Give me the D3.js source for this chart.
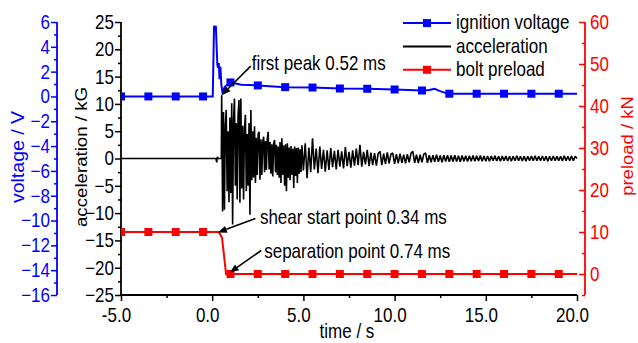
<!DOCTYPE html>
<html><head><meta charset="utf-8">
<script src="https://cdn.jsdelivr.net/npm/d3@7"></script>
<style>
html,body{margin:0;padding:0;background:#fff;}
svg{display:block;font-family:"Liberation Sans",Arial,Helvetica,sans-serif;}
</style></head><body>
<svg id="chart" width="638" height="343"></svg>
<script>
// ---------------- data ----------------
const timeTicks = [-5, 0, 5, 10, 15, 20];
const timeTickLabels = ["-5.0", "0.0", "5.0", "10.0", "15.0", "20.0"];
const timeMinor = [-2.5, 2.5, 7.5, 12.5, 17.5];
const accelTicks = [25, 20, 15, 10, 5, 0, -5, -10, -15, -20, -25];
const accelMinor = [22.5, 17.5, 12.5, 7.5, 2.5, -2.5, -7.5, -12.5, -17.5, -22.5];
const voltageTicks = [6, 4, 2, 0, -2, -4, -6, -8, -10, -12, -14, -16];
const voltageMinor = [5, 3, 1, -1, -3, -5, -7, -9, -11, -13, -15];
const preloadTicks = [60, 50, 40, 30, 20, 10, 0];
const preloadMinor = [55, 45, 35, 25, 15, 5, -5];

const seriesNames = ["ignition voltage", "acceleration", "bolt preload"];

// ignition voltage (V)
const voltageT = [-5, -3.5, -2, -0.5, 0.03, 0.1, 0.15, 0.2, 0.28, 0.32, 0.36, 0.4, 0.45, 0.5, 0.56, 0.7, 1.0, 1.6, 2.5, 4.0, 5.5, 7.0, 8.5, 10.0, 11.5, 11.9, 12.2, 12.45, 12.65, 13.0, 14.5, 16.0, 17.5, 19.0, 20.0];
const voltageV = [0, 0, 0, 0, 0, 5.7, 5.3, 5.7, 2.6, 2.3, 2.7, 1.4, 2.4, 1.0, 0.35, 0.8, 1.13, 0.95, 0.89, 0.75, 0.72, 0.64, 0.62, 0.56, 0.48, 0.52, 0.62, 0.45, 0.35, 0.22, 0.22, 0.22, 0.22, 0.22, 0.22];

// marker times (shared) and marker values
const markerTimes = [-5, -3.5, -2, -0.5, 1, 2.5, 4, 5.5, 7, 8.5, 10, 11.5, 13, 14.5, 16, 17.5, 19];
const voltageMarkerV = [0, 0, 0, 0, 1.13, 0.89, 0.75, 0.72, 0.64, 0.62, 0.56, 0.48, 0.22, 0.22, 0.22, 0.22, 0.22];
const preloadMarkerV = [10, 10, 10, 10, 0, 0, 0, 0, 0, 0, 0, 0, 0, 0, 0, 0, 0];

// bolt preload (kN)
const preloadT = [-5, 0.34, 0.42, 0.54, 0.76, 20];
const preloadV = [10, 10, 9.6, 8.6, 0, 0];

// acceleration (kG): quiet part, burst (0.05 s step), tail (0.1 s step)
const accelQuietT = [-5, 0.2, 0.25, 0.28, 0.32, 0.5];
const accelQuietV = [0, 0, -0.7, 0.3, 0, 0];
const accelBurstStart = 0.52, accelBurstStep = 0.05;
const accelBurst = [
  11.6, -9.7, 8.5, -9.4, 6.0, 8.9, -6.0, 5.0, -8.0, 7.5,
  -6.3, 10.1, -12.1, 7.0, 11.0, -5.0, 6.5, -7.5, 8.0, 10.7,
  -8.1, 11.0, -5.5, 6.0, -7.5, 5.5, 8.0, -6.0, 4.5, -5.0,
  6.5, -10.3, 8.9, -4.0, 5.0, -3.5, 5.9, -4.5, 3.8, -3.0,
  4.5, 4.9, -3.9, 3.5, -3.0, 3.0, 4.0, -2.5, 3.2, -2.1,
  3.6, 4.9, -2.0, 3.0, -2.8, 2.6, -3.3, 2.8, 3.4, -2.5,
  2.5, -3.0, 2.2, -3.5, 3.0, -4.5, 3.7, -3.0, 2.4, -5.0,
  2.6, -6.0, 2.8, -3.5, 2.0, -4.0, 2.3, -3.0, 1.8, -5.4,
  2.2, -3.2, 1.9, -4.5, 2.0, -2.8, 1.7, -2.5, 2.4
];
const accelTailStart = 5.0, accelTailStep = 0.1;
const accelTail = [
  -2.2, 2.8, -3.6, 2.0, -2.5, 3.7, -2.0, 1.8, -2.7, 2.2,
  -1.9, 1.6, -2.4, 1.5, -2.1, 1.9, -1.6, 1.4, -2.0, 1.6,
  -1.5, 1.3, -1.8, 2.1, -1.4, 1.2, -1.7, 1.5, -1.3, 1.8,
  -1.2, 2.5, -1.5, 1.2, -1.1, 1.6, -1.4, 1.1, -1.2, 1.0,
  -1.3, 0.9, 1.3, -1.2, 0.9, -1.0, 1.1, -0.9, 0.8, 1.0,
  -1.0, 0.8, -0.9, 0.9, -0.8, 0.7, -0.9, 0.8, -0.7, 1.0,
  1.3, -0.8, 0.7, -0.85, 0.7, -0.7, 0.8, 1.0, -0.8, 0.6,
  -0.7, 0.6, -0.6, 0.7, -0.6, 0.55, -0.7, 0.6, -0.55, 0.6,
  -0.6, 0.55, -0.55, 0.6, -0.55, 0.5, -0.6, 0.55, -0.5, 0.5,
  -0.55, 0.5, -0.5, 0.55, -0.5, 0.5, -0.45, 0.55, -0.5, 0.45,
  -0.5, 0.45, -0.5, 0.45, -0.4, 0.5, -0.45, 0.4, -0.5, 0.45,
  -0.4, 0.45, -0.45, 0.4, -0.5, 0.4, -0.4, 0.5, -0.4, 0.4,
  -0.45, 0.4, -0.5, 0.4, -0.4, 0.45, -0.4, 0.5, -0.4, 0.4,
  -0.4, 0.45, -0.4, 0.4, -0.5, 0.4, -0.4, 0.45, -0.4, 0.4,
  -0.4, 0.4, -0.45, 0.5, -0.4, 0.4, -0.4, 0.45, -0.4, 0.4,
  0
];

const annotations = [
  {text: "first peak 0.52 ms", t: 0.52, v: 11.6, axis: "accel"},
  {text: "shear start point 0.34 ms", t: 0.34, v: 10, axis: "preload"},
  {text: "separation point 0.74 ms", t: 0.74, v: 0, axis: "preload"}
];

// ---------------- layout ----------------
const BLUE = "#0000ff", RED = "#ff0000", BLACK = "#000000";
const SX = 0.85, FONT = 20;
const annotationLayout = [
  {tipDx: 0, tipDy: 0, tailDx: 29, tailDy: -29, textDx: 30, textDy: -25.5},
  {tipDx: -0.5, tipDy: 0.5, tailDx: 37, tailDy: -13.5, textDx: 41.5, textDy: -8},
  {tipDx: 4, tipDy: -1.5, tailDx: 35.5, tailDy: -23.5, textDx: 38.5, textDy: -16.5}
];

const svg = d3.select("#chart");
const x = d3.scaleLinear().domain([-5, 20]).range([121, 577]);
const yA = d3.scaleLinear().domain([-25, 25]).range([295, 22]);
const yV = d3.scaleLinear().domain([-16, 6]).range([295, 22]);
const yP = d3.scaleLinear().domain([-5, 60]).range([295, 22]);
const axisX = {accel: 121, volt: 57, preload: 585};

function squeezeText(sel, xOff) {
  sel.attr("x", xOff / SX).attr("transform", `scale(${SX},1)`)
     .style("font-size", FONT + "px");
}
function styleAxis(g, color) {
  g.select(".domain").remove();
  g.selectAll("line").attr("stroke", color).attr("stroke-width", 1.5);
  g.selectAll("text").attr("fill", color);
  g.attr("font-family", null).attr("font-size", null);
}

// clip for series
svg.append("defs").append("clipPath").attr("id", "plotclip")
  .append("rect").attr("x", 121).attr("y", 0).attr("width", 480).attr("height", 343);

// ---------- axes ----------
let g = svg.append("g").attr("transform", `translate(${axisX.accel},0)`)
  .call(d3.axisLeft(yA).tickValues(accelTicks).tickSize(6).tickPadding(1).tickSizeOuter(0));
styleAxis(g, BLACK); squeezeText(g.selectAll(".tick text"), -7);
g = svg.append("g").attr("transform", `translate(${axisX.accel},0)`)
  .call(d3.axisLeft(yA).tickValues(accelMinor).tickSize(3).tickFormat("").tickSizeOuter(0));
styleAxis(g, BLACK);
svg.append("line").attr("x1", axisX.accel).attr("x2", axisX.accel).attr("y1", yA(25)).attr("y2", yA(-25))
  .attr("stroke", BLACK).attr("stroke-width", 1.8);

g = svg.append("g").attr("transform", `translate(${axisX.volt},0)`)
  .call(d3.axisLeft(yV).tickValues(voltageTicks).tickSize(6).tickPadding(1).tickSizeOuter(0));
styleAxis(g, BLUE); squeezeText(g.selectAll(".tick text"), -7);
g = svg.append("g").attr("transform", `translate(${axisX.volt},0)`)
  .call(d3.axisLeft(yV).tickValues(voltageMinor).tickSize(3).tickFormat("").tickSizeOuter(0));
styleAxis(g, BLUE);
svg.append("line").attr("x1", axisX.volt).attr("x2", axisX.volt).attr("y1", yV(6)).attr("y2", yV(-16))
  .attr("stroke", BLUE).attr("stroke-width", 1.8);

g = svg.append("g").attr("transform", `translate(${axisX.preload},0)`)
  .call(d3.axisRight(yP).tickValues(preloadTicks).tickSize(-6).tickPadding(5).tickSizeOuter(0));
styleAxis(g, RED); squeezeText(g.selectAll(".tick text"), 5);
g = svg.append("g").attr("transform", `translate(${axisX.preload},0)`)
  .call(d3.axisRight(yP).tickValues(preloadMinor).tickSize(-3).tickFormat("").tickSizeOuter(0));
styleAxis(g, RED);
svg.append("line").attr("x1", axisX.preload).attr("x2", axisX.preload).attr("y1", yP(60)).attr("y2", yP(-5))
  .attr("stroke", RED).attr("stroke-width", 1.8);

g = svg.append("g").attr("transform", `translate(0,${yA(-25)})`)
  .call(d3.axisBottom(x).tickValues(timeTicks).tickFormat((d, i) => timeTickLabels[i]).tickSize(6).tickPadding(7).tickSizeOuter(0));
styleAxis(g, BLACK); squeezeText(g.selectAll(".tick text"), -5);
g = svg.append("g").attr("transform", `translate(0,${yA(-25)})`)
  .call(d3.axisBottom(x).tickValues(timeMinor).tickSize(3).tickFormat("").tickSizeOuter(0));
styleAxis(g, BLACK);
svg.append("line").attr("x1", x(-5)).attr("x2", x(20)).attr("y1", yA(-25)).attr("y2", yA(-25))
  .attr("stroke", BLACK).attr("stroke-width", 1.8);

function title(tx, ty, str, color, size, rot) {
  svg.append("text")
    .attr("transform", rot ? `translate(${tx},${ty}) rotate(-90) scale(1,0.9)` : `translate(${tx},${ty}) scale(${SX},1)`)
    .attr("text-anchor", "middle").attr("fill", color).style("font-size", size + "px").text(str);
}
title(24, 157, "voltage / V", BLUE, 19.5, true);
title(87, 157, "acceleration / kG", BLACK, 18.7, true);
title(633, 146, "preload / kN", RED, 18.5, true);
title(347, 338, "time / s", BLACK, FONT, false);

// ---------- series ----------
const plot = svg.append("g").attr("clip-path", "url(#plotclip)");

const accelData = [];
accelQuietT.forEach((t, i) => accelData.push([t, accelQuietV[i]]));
accelBurst.forEach((v, i) => accelData.push([accelBurstStart + i * accelBurstStep, v]));
accelTail.forEach((v, i) => accelData.push([accelTailStart + i * accelTailStep, v]));

plot.append("path").datum(accelData)
  .attr("d", d3.line().x(d => x(d[0])).y(d => yA(d[1])))
  .attr("fill", "none").attr("stroke", BLACK).attr("stroke-width", 1.6).attr("stroke-linejoin", "bevel");

const voltData = voltageT.map((t, i) => [t, voltageV[i]]);
plot.append("path").datum(voltData)
  .attr("d", d3.line().x(d => x(d[0])).y(d => yV(d[1])))
  .attr("fill", "none").attr("stroke", BLUE).attr("stroke-width", 2);
plot.selectAll("rect.vm").data(markerTimes.map((t, i) => [t, voltageMarkerV[i]])).enter()
  .append("rect").attr("x", d => x(d[0]) - 4).attr("y", d => yV(d[1]) - 4)
  .attr("width", 8).attr("height", 8).attr("fill", BLUE);

const preData = preloadT.map((t, i) => [t, preloadV[i]]);
plot.append("path").datum(preData)
  .attr("d", d3.line().x(d => x(d[0])).y(d => yP(d[1])))
  .attr("fill", "none").attr("stroke", RED).attr("stroke-width", 2);
plot.selectAll("rect.pm").data(markerTimes.map((t, i) => [t, preloadMarkerV[i]])).enter()
  .append("rect").attr("x", d => x(d[0]) - 4).attr("y", d => yP(d[1]) - 4)
  .attr("width", 8).attr("height", 8).attr("fill", RED);

// ---------- annotations ----------
annotations.forEach((a, i) => {
  const L = annotationLayout[i];
  const ys = a.axis === "accel" ? yA : yP;
  const ax = x(a.t), ay = ys(a.v);
  const tipX = ax + L.tipDx, tipY = ay + L.tipDy;
  const tailX = ax + L.tailDx, tailY = ay + L.tailDy;
  const ang = Math.atan2(tipY - tailY, tipX - tailX);
  const hl = 9, hw = 3.5;
  const bx = tipX - hl * Math.cos(ang), by = tipY - hl * Math.sin(ang);
  svg.append("line").attr("x1", tailX).attr("y1", tailY).attr("x2", bx).attr("y2", by)
    .attr("stroke", BLACK).attr("stroke-width", 1.6);
  const px = -Math.sin(ang), py = Math.cos(ang);
  svg.append("path")
    .attr("d", `M${tipX},${tipY}L${bx + px * hw},${by + py * hw}L${bx - px * hw},${by - py * hw}Z`)
    .attr("fill", BLACK);
  svg.append("text").attr("transform", `translate(${ax + L.textDx},${ay + L.textDy}) scale(${SX},1)`)
    .attr("fill", BLACK).style("font-size", FONT + "px").text(a.text);
});

// ---------- legend ----------
const legendColors = [BLUE, BLACK, RED];
const legendMarker = [true, false, true];
const legendBaselines = [29.3, 52.7, 76];
seriesNames.forEach((name, i) => {
  const ly = legendBaselines[i] - 6.2;
  svg.append("line").attr("x1", 403).attr("x2", 451).attr("y1", ly).attr("y2", ly)
    .attr("stroke", legendColors[i]).attr("stroke-width", 2);
  if (legendMarker[i]) svg.append("rect").attr("x", 427 - 4).attr("y", ly - 4)
    .attr("width", 8).attr("height", 8).attr("fill", legendColors[i]);
  svg.append("text").attr("transform", `translate(456,${legendBaselines[i]}) scale(${SX},1)`)
    .attr("fill", BLACK).style("font-size", FONT + "px").text(name);
});
</script>
</body></html>
